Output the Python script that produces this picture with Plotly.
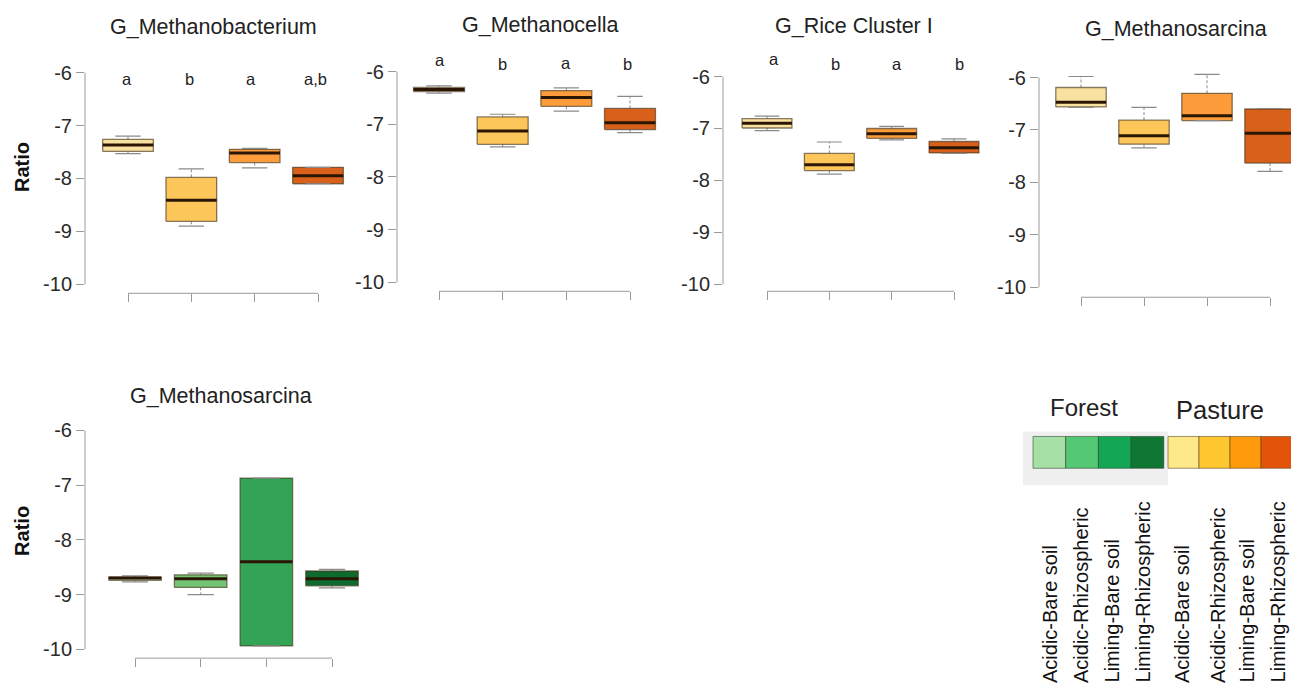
import plotly.graph_objects as go

# ---------------------------------------------------------------- data
GROUPS = ["Acidic-Bare soil", "Acidic-Rhizospheric", "Liming-Bare soil", "Liming-Rhizospheric"]
Y_TICKS = [-6, -7, -8, -9, -10]
Y_TICK_LABELS = ["-6", "-7", "-8", "-9", "-10"]

TITLES = ["G_Methanobacterium", "G_Methanocella", "G_Rice Cluster I",
          "G_Methanosarcina", "G_Methanosarcina"]

# five-number summaries (lower whisker, Q1, median, Q3, upper whisker)
MBAC_LOW = [-7.53, -8.90, -7.80, -8.10]
MBAC_Q1 = [-7.49, -8.81, -7.70, -8.10]
MBAC_MED = [-7.37, -8.41, -7.52, -7.95]
MBAC_Q3 = [-7.26, -7.98, -7.45, -7.79]
MBAC_HIGH = [-7.20, -7.82, -7.43, -7.79]
MBAC_LETTERS = ["a", "b", "a", "a,b"]

MCEL_LOW = [-6.41, -7.43, -6.75, -7.16]
MCEL_Q1 = [-6.38, -7.38, -6.66, -7.10]
MCEL_MED = [-6.34, -7.13, -6.49, -6.97]
MCEL_Q3 = [-6.30, -6.86, -6.36, -6.70]
MCEL_HIGH = [-6.27, -6.81, -6.31, -6.47]
MCEL_LETTERS = ["a", "b", "a", "b"]

RC1_LOW = [-7.04, -7.88, -7.22, -7.48]
RC1_Q1 = [-6.99, -7.81, -7.19, -7.47]
RC1_MED = [-6.90, -7.70, -7.10, -7.37]
RC1_Q3 = [-6.81, -7.48, -7.00, -7.25]
RC1_HIGH = [-6.76, -7.26, -6.96, -7.20]
RC1_LETTERS = ["a", "b", "a", "b"]

MSAR_P_LOW = [-6.57, -7.34, -6.82, -7.79]
MSAR_P_Q1 = [-6.56, -7.27, -6.82, -7.63]
MSAR_P_MED = [-6.47, -7.11, -6.73, -7.06]
MSAR_P_Q3 = [-6.19, -6.81, -6.30, -6.60]
MSAR_P_HIGH = [-5.98, -6.57, -5.94, -6.59]

MSAR_F_LOW = [-8.77, -9.00, -9.94, -8.88]
MSAR_F_Q1 = [-8.74, -8.87, -9.94, -8.84]
MSAR_F_MED = [-8.70, -8.71, -8.40, -8.71]
MSAR_F_Q3 = [-8.68, -8.64, -6.87, -8.57]
MSAR_F_HIGH = [-8.66, -8.61, -6.87, -8.54]

PASTURE_FILL = ["#f9e2a0", "#fdc65b", "#fc9c3a", "#d9601a"]
FOREST_FILL = ["#a5dba0", "#74c476", "#33a455", "#0c6b2d"]
FOREST_KEY = ["#a6e0a6", "#55c875", "#12a655", "#0f7733"]
PASTURE_KEY = ["#fee98a", "#fec730", "#fe9a0b", "#e4530a"]
KEY_TITLES = ["Forest", "Pasture"]

# ---------------------------------------------------------------- layout helpers
W, H = 1291, 688
FONT = "Liberation Sans, Arial, Helvetica, sans-serif"


def fx(p):
    return p / W


def fy(p):
    return 1 - p / H


# pixel geometry of each panel: y-axis x, y of -6, y of -10, x-axis line y,
# first/last tick x, right edge
PANELS = [
    dict(yax=85, y6=73, y10=286, xline=295, t1=128, t4=318, right=345),
    dict(yax=397, y6=72, y10=284, xline=293, t1=439, t4=630, right=660),
    dict(yax=723, y6=77, y10=286, xline=293, t1=767, t4=954, right=985),
    dict(yax=1039, y6=78, y10=289, xline=299, t1=1081, t4=1270, right=1291),
    dict(yax=85, y6=433, y10=653, xline=662, t1=135, t4=332, right=365),
]

SERIES = [
    (MBAC_LOW, MBAC_Q1, MBAC_MED, MBAC_Q3, MBAC_HIGH, PASTURE_FILL),
    (MCEL_LOW, MCEL_Q1, MCEL_MED, MCEL_Q3, MCEL_HIGH, PASTURE_FILL),
    (RC1_LOW, RC1_Q1, RC1_MED, RC1_Q3, RC1_HIGH, PASTURE_FILL),
    (MSAR_P_LOW, MSAR_P_Q1, MSAR_P_MED, MSAR_P_Q3, MSAR_P_HIGH, PASTURE_FILL),
    (MSAR_F_LOW, MSAR_F_Q1, MSAR_F_MED, MSAR_F_Q3, MSAR_F_HIGH, FOREST_FILL),
]

TITLE_POS = [(213, 27), (540, 25), (854, 26), (1176, 29), (221, 398)]
LETTER_SETS = [
    (MBAC_LETTERS, [127, 189, 251, 315], [79, 79, 79, 79]),
    (MCEL_LETTERS, [440, 502, 566, 627], [60.5, 64.5, 63.5, 64.5]),
    (RC1_LETTERS, [774, 836, 897, 959], [59.5, 64.5, 64.5, 64.5]),
]
RATIO_POS = [(22, 168), (22, 534)]

fig = go.Figure()
shapes = []
annotations = []
layout_axes = {}

HW, CAP = 0.4, 0.2
AXIS_GREY = "#9a9a9a"

for i, (geo, ser) in enumerate(zip(PANELS, SERIES), start=1):
    xa = "x" if i == 1 else f"x{i}"
    ya = "y" if i == 1 else f"y{i}"
    s = (geo["t4"] - geo["t1"]) / 3.0
    u = (geo["y10"] - geo["y6"]) / 4.0
    top = geo["y6"] - 16
    xr = [1 + (geo["yax"] - geo["t1"]) / s, 1 + (geo["right"] - geo["t1"]) / s]
    yr = [-10 - (geo["xline"] - geo["y10"]) / u, -6 + (geo["y6"] - top) / u]

    layout_axes[f"xaxis{'' if i == 1 else i}"] = dict(
        domain=[fx(geo["yax"]), fx(geo["right"])], range=xr, anchor=ya,
        tickvals=[1, 2, 3, 4], ticks="outside", ticklen=8, tickwidth=1,
        tickcolor=AXIS_GREY, showticklabels=False, showgrid=False,
        zeroline=False, showline=False, fixedrange=True,
    )
    layout_axes[f"yaxis{'' if i == 1 else i}"] = dict(
        domain=[fy(geo["xline"]), fy(top)], range=yr, anchor=xa,
        tickvals=Y_TICKS, ticktext=Y_TICK_LABELS, ticks="outside", ticklen=8,
        tickwidth=1, tickcolor=AXIS_GREY, showgrid=False, zeroline=False,
        showline=False, fixedrange=True,
        tickfont=dict(family=FONT, size=20, color="#2a2a2a"),
    )
    # axis lines spanning only the tick range
    shapes.append(dict(type="line", xref="paper", yref=ya, x0=fx(geo["yax"]),
                       x1=fx(geo["yax"]), y0=Y_TICKS[-1], y1=Y_TICKS[0],
                       line=dict(color=AXIS_GREY, width=1)))
    shapes.append(dict(type="line", xref=xa, yref="paper", x0=1, x1=4,
                       y0=fy(geo["xline"]), y1=fy(geo["xline"]),
                       line=dict(color=AXIS_GREY, width=1)))

    low, q1, med, q3, high, fills = ser
    for j in range(len(GROUPS)):
        xc = j + 1
        # dashed whiskers
        fig.add_trace(go.Scatter(
            x=[xc, xc, None, xc, xc], y=[q3[j], high[j], None, q1[j], low[j]],
            mode="lines", line=dict(color="#8a8a8a", width=1, dash="3px,2px"),
            xaxis=xa, yaxis=ya, hoverinfo="skip", showlegend=False))
        # box body
        fig.add_trace(go.Scatter(
            x=[xc - HW, xc + HW, xc + HW, xc - HW, xc - HW],
            y=[q1[j], q1[j], q3[j], q3[j], q1[j]],
            mode="lines", fill="toself", fillcolor=fills[j],
            line=dict(color="rgba(70,55,30,0.65)", width=1.3),
            xaxis=xa, yaxis=ya, name=GROUPS[j], showlegend=False))
        # whisker caps
        fig.add_trace(go.Scatter(
            x=[xc - CAP, xc + CAP, None, xc - CAP, xc + CAP],
            y=[high[j], high[j], None, low[j], low[j]],
            mode="lines", line=dict(color="#8a8a8a", width=1.2),
            xaxis=xa, yaxis=ya, hoverinfo="skip", showlegend=False))
        # median
        fig.add_trace(go.Scatter(
            x=[xc - HW, xc + HW], y=[med[j], med[j]], mode="lines",
            line=dict(color="#2b1606", width=3),
            xaxis=xa, yaxis=ya, hoverinfo="skip", showlegend=False))

# panel titles
for (tx, ty), title in zip(TITLE_POS, TITLES):
    annotations.append(dict(text=title, x=fx(tx), y=fy(ty), xref="paper", yref="paper",
                            xanchor="center", yanchor="middle", showarrow=False,
                            font=dict(family=FONT, size=21.5, color="#222222")))

# significance letters
for letters, xs, ys in LETTER_SETS:
    for lab, lx, ly in zip(letters, xs, ys):
        annotations.append(dict(text=lab, x=fx(lx), y=fy(ly), xref="paper", yref="paper",
                                xanchor="center", yanchor="middle", showarrow=False,
                                font=dict(family=FONT, size=16.5, color="#222222")))

# y-axis titles
for rx, ry in RATIO_POS:
    annotations.append(dict(text="<b>Ratio</b>", x=fx(rx), y=fy(ry), xref="paper",
                            yref="paper", textangle=-90, xanchor="center",
                            yanchor="middle", showarrow=False,
                            font=dict(family=FONT, size=20, color="#111111")))

# colour key
shapes.append(dict(type="rect", xref="paper", yref="paper", x0=fx(1023), x1=fx(1168),
                   y0=fy(488), y1=fy(434), fillcolor="#efefef", line=dict(width=0),
                   layer="below"))
KEY_TOP, KEY_BOT = 439, 471
for k, col in enumerate(FOREST_KEY):
    x0 = 1033 + k * 32.7
    shapes.append(dict(type="rect", xref="paper", yref="paper", x0=fx(x0), x1=fx(x0 + 32.7),
                       y0=fy(KEY_BOT), y1=fy(KEY_TOP), fillcolor=col,
                       line=dict(color="rgba(40,60,40,0.55)", width=1)))
for k, col in enumerate(PASTURE_KEY):
    x0 = 1168 + k * 31
    shapes.append(dict(type="rect", xref="paper", yref="paper", x0=fx(x0), x1=fx(x0 + 31),
                       y0=fy(KEY_BOT), y1=fy(KEY_TOP), fillcolor=col,
                       line=dict(color="rgba(80,60,20,0.55)", width=1)))

for title, (kx, ky), ksize in zip(KEY_TITLES, [(1084, 410), (1220, 412)], [24, 25.5]):
    annotations.append(dict(text=title, x=fx(kx), y=fy(ky), xref="paper", yref="paper",
                            xanchor="center", yanchor="middle", showarrow=False,
                            font=dict(family=FONT, size=ksize, color="#222222")))

KEY_LABEL_X = [1050, 1081, 1112, 1143, 1182, 1218, 1247, 1278]
for lx, lab in zip(KEY_LABEL_X, GROUPS + GROUPS):
    annotations.append(dict(text=lab, x=fx(lx), y=fy(689), xref="paper", yref="paper",
                            textangle=-90, xanchor="center", yanchor="bottom",
                            showarrow=False,
                            font=dict(family=FONT, size=20, color="#111111")))

fig.update_layout(
    width=W, height=H, margin=dict(l=0, r=0, t=0, b=0),
    paper_bgcolor="white", plot_bgcolor="rgba(0,0,0,0)",
    showlegend=False, shapes=shapes, annotations=annotations,
    **layout_axes,
)

fig.write_html("out.html", config={"displayModeBar": False})
